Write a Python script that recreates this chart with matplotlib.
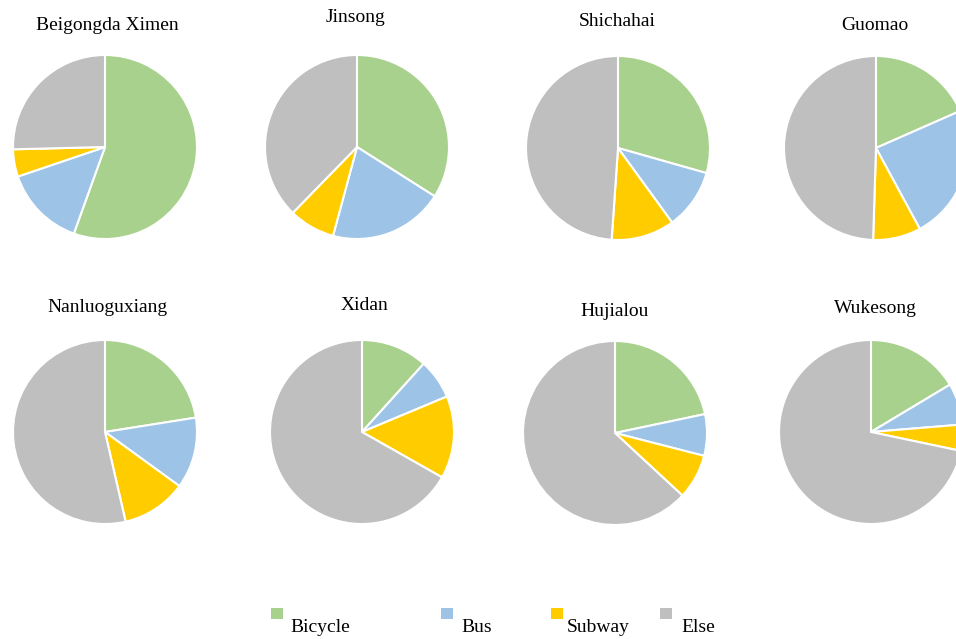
import matplotlib.pyplot as plt
from matplotlib.patches import Rectangle

# share of trips per mode (%) at each station
stations = ["Beigongda Ximen", "Jinsong", "Shichahai", "Guomao",
            "Nanluoguxiang", "Xidan", "Hujialou", "Wukesong"]
modes = ["Bicycle", "Bus", "Subway", "Else"]
bicycle = [55.5, 34.0, 29.4, 18.4, 22.5, 11.7, 21.7, 16.4]
bus = [14.3, 20.2, 10.6, 23.7, 12.5, 7.0, 7.3, 7.3]
subway = [4.8, 8.1, 11.1, 8.4, 11.4, 14.5, 7.9, 4.6]
other = [25.4, 37.7, 48.9, 49.5, 53.6, 66.8, 63.1, 71.7]

colors = ["#A9D18E", "#9DC3E6", "#FFCC00", "#BFBFBF"]

W, H = 956, 639
fig = plt.figure(figsize=(W / 100, H / 100), dpi=100)
plt.rcParams['font.family'] = ['Liberation Serif', 'DejaVu Serif']

# pie centres and title positions in pixels
centers = [(105, 147), (357, 147), (618, 148), (876, 148),
           (105, 432), (362, 432), (615, 433), (871, 432)]
title_pos = [(107, 25), (355, 18), (617, 22), (875, 25),
             (107, 307), (364, 306), (615, 312), (875, 308)]
R = 92

for i, name in enumerate(stations):
    cx, cy = centers[i]
    ax = fig.add_axes([(cx - R) / W, (H - cy - R) / H, 2 * R / W, 2 * R / H])
    vals = [bicycle[i], bus[i], subway[i], other[i]]
    ax.pie(vals, colors=colors, startangle=90, counterclock=False, radius=1,
           wedgeprops=dict(edgecolor="white", linewidth=1.5))
    ax.set_xlim(-1, 1)
    ax.set_ylim(-1, 1)
    ax.axis('off')
    tx, ty = title_pos[i]
    fig.text(tx / W, 1 - ty / H, name, ha='center', va='center', fontsize=14)

# legend: square above-left of each label
sq_x = [271, 441, 551, 660]
txt_x = [290, 461, 567, 681]
for i, m in enumerate(modes):
    fig.patches.append(Rectangle((sq_x[i] / W, 1 - 619 / H), 11.5 / W, 11.5 / H,
                                 transform=fig.transFigure, facecolor=colors[i],
                                 edgecolor='none'))
    fig.text(txt_x[i] / W, 1 - 627 / H, m, ha='left', va='center', fontsize=14)

fig.savefig("out.png", dpi=100)
